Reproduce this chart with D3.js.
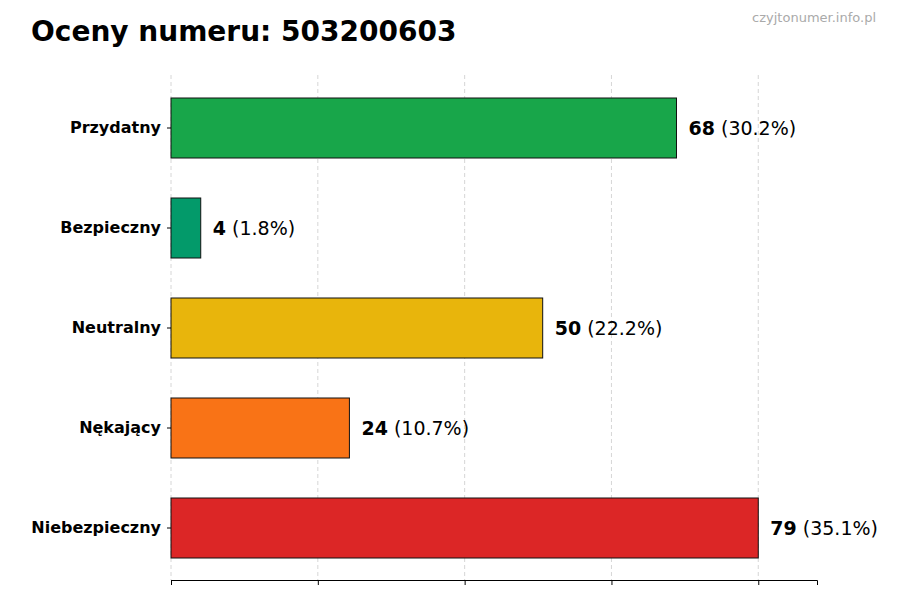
<!DOCTYPE html>
<html><head><meta charset="utf-8">
<script src="https://cdn.jsdelivr.net/npm/d3@7"></script>
<style>body{margin:0;background:#fff}</style>
</head><body><div id="chart"></div>
<script>
var categories = ["Przydatny", "Bezpieczny", "Neutralny", "Nękający", "Niebezpieczny"];
var values = [68, 4, 50, 24, 79];
var percents = ["30.2%", "1.8%", "22.2%", "10.7%", "35.1%"];
var colors = ["#18a64a", "#039a6a", "#e8b50c", "#f97316", "#dc2626"];

var width = 900, height = 600;
var svg = d3.select("#chart").append("svg").attr("width", width).attr("height", height);

var maxV = d3.max(values);
var x = d3.scaleLinear().domain([0, maxV * 1.1]).range([171, 817]);
var y = d3.scaleBand().domain(categories).range([78, 578]).paddingInner(0.4).paddingOuter(0.2);

var tickVals = d3.range(5).map(function (i) { return maxV * i / 4; });

// grid
svg.selectAll(".grid").data(tickVals).enter().append("line")
  .attr("x1", function (d) { return x(d); }).attr("x2", function (d) { return x(d); })
  .attr("y1", 75).attr("y2", 580)
  .attr("stroke", "#ccc").attr("stroke-dasharray", "4,3").attr("stroke-width", 0.8);

// bars
svg.selectAll(".bar").data(values).enter().append("rect")
  .attr("x", x(0))
  .attr("y", function (d, i) { return y(categories[i]); })
  .attr("width", function (d) { return x(d) - x(0); })
  .attr("height", y.bandwidth())
  .attr("fill", function (d, i) { return colors[i]; })
  .attr("stroke", "#111").attr("stroke-width", 1);

// labels
var lab = svg.selectAll(".lab").data(values).enter().append("text")
  .attr("x", function (d) { return x(d) + 12; })
  .attr("y", function (d, i) { return y(categories[i]) + y.bandwidth() / 2; })
  .attr("dy", "0.35em")
  .style("font-family", "DejaVu Sans").style("font-size", "19px");
lab.append("tspan").attr("font-weight", "bold").text(function (d) { return d; });
lab.append("tspan").text(function (d, i) { return " (" + percents[i] + ")"; });

// axes
var xAxis = svg.append("g").attr("transform", "translate(0,580)")
  .call(d3.axisBottom(x).tickValues(tickVals).tickFormat("").tickSizeOuter(0).tickSize(5));
xAxis.select(".domain").attr("stroke", "#000");

var yAxis = svg.append("g").attr("transform", "translate(171,0)")
  .call(d3.axisLeft(y).tickSize(4).tickPadding(6));
yAxis.select(".domain").remove();
yAxis.selectAll("text").style("font-family", "DejaVu Sans").style("font-size", "16px")
  .style("font-weight", "bold").attr("fill", "#000");

svg.append("text").attr("x", 31).attr("y", 41)
  .style("font-family", "DejaVu Sans").style("font-size", "28px").style("font-weight", "bold")
  .text("Oceny numeru: 503200603");
svg.append("text").attr("x", 876).attr("y", 22).attr("text-anchor", "end")
  .style("font-family", "DejaVu Sans").style("font-size", "13px").attr("fill", "#aaa")
  .text("czyjtonumer.info.pl");
</script></body></html>
